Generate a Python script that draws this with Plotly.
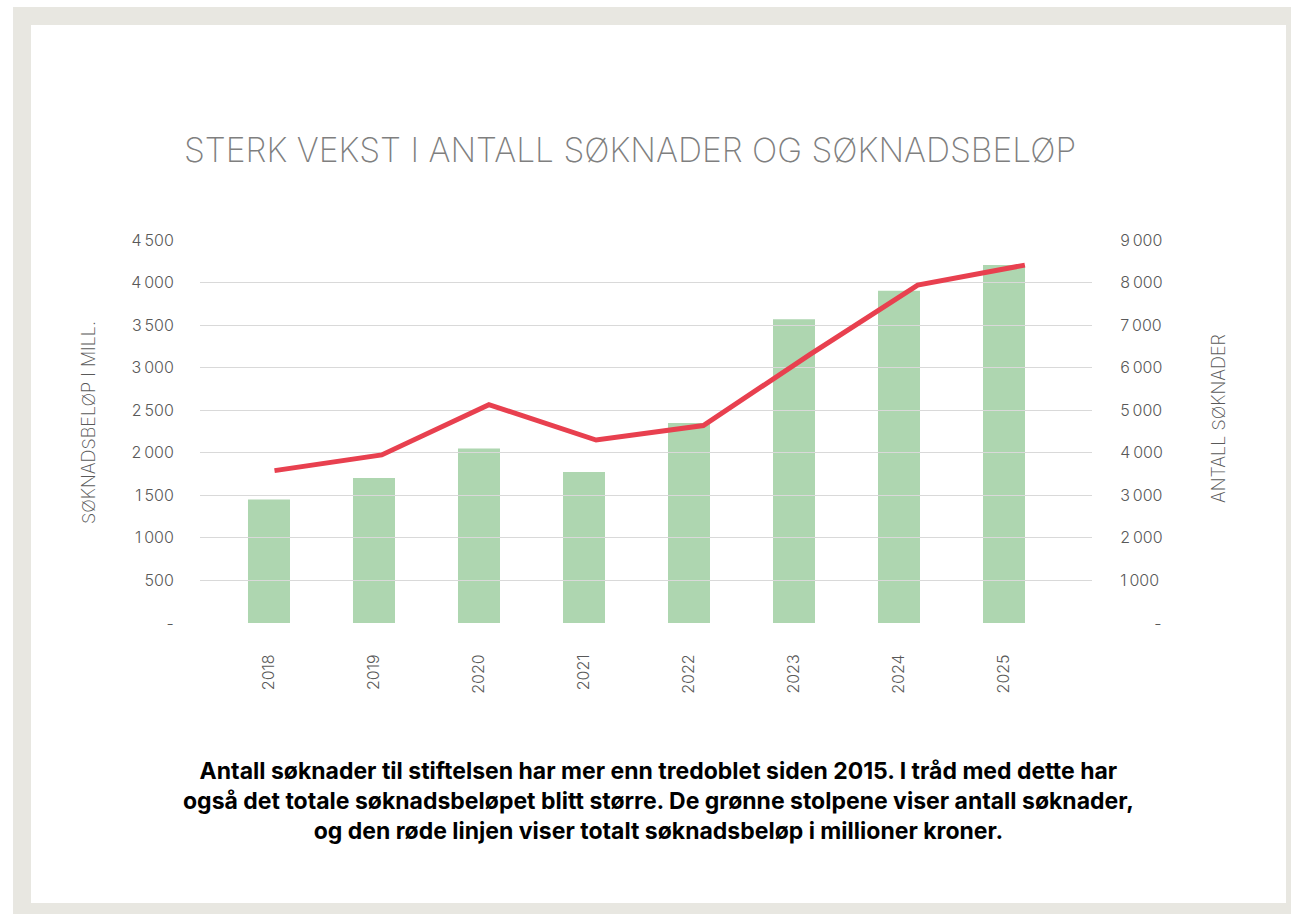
import plotly.graph_objects as go

years = ["2018", "2019", "2020", "2021", "2022", "2023", "2024", "2025"]
antall_soknader = [2900, 3410, 4100, 3550, 4700, 7140, 7810, 8410]
soknadsbelop_mill = [1790, 1975, 2565, 2150, 2320, 3160, 3970, 4205]

left_tickvals = [0, 500, 1000, 1500, 2000, 2500, 3000, 3500, 4000, 4500]
left_ticktext = ["-", "500", "1\u2009000", "1\u2009500", "2\u2009000", "2\u2009500",
                 "3\u2009000", "3\u2009500", "4\u2009000", "4\u2009500"]
right_tickvals = [0, 1000, 2000, 3000, 4000, 5000, 6000, 7000, 8000, 9000]
right_ticktext = ["\u2007\u2007\u2007\u2009-", "1\u2009000", "2\u2009000", "3\u2009000", "4\u2009000",
                  "5\u2009000", "6\u2009000", "7\u2009000", "8\u2009000", "9\u2009000"]

title_text = "STERK VEKST I ANTALL SØKNADER OG SØKNADSBELØP"
caption_lines = [
    "Antall søknader til stiftelsen har mer enn tredoblet siden 2015. I tråd med dette har",
    "også det totale søknadsbeløpet blitt større. De grønne stolpene viser antall søknader,",
    "og den røde linjen viser totalt søknadsbeløp i millioner kroner.",
]

GREY = "#595959"
FONT = "Inter"

fig = go.Figure()
fig.add_trace(go.Bar(
    x=years, y=antall_soknader, xaxis="x", yaxis="y2",
    marker=dict(color="#AED6B0", line=dict(width=0)), width=0.4,
    name="Antall søknader", hoverinfo="skip",
))
fig.add_trace(go.Scatter(
    x=years, y=soknadsbelop_mill, xaxis="x2", yaxis="y",
    mode="lines", line=dict(color="#E8404F", width=5),
    name="Søknadsbeløp", hoverinfo="skip",
))

annotations = [
    dict(text=title_text, xref="paper", yref="paper", x=0.482, y=1.235,
         xanchor="center", yanchor="middle", showarrow=False,
         font=dict(family=FONT, size=33.5, color="#7F7F7F", weight=200)),
    dict(text="SØKNADSBELØP I MILL.", xref="paper", yref="paper", x=-0.1256, y=0.5248,
         textangle=-90, xanchor="center", yanchor="middle", showarrow=False,
         font=dict(family=FONT, size=18, color=GREY, weight=200)),
    dict(text="ANTALL SØKNADER", xref="paper", yref="paper", x=1.1413, y=0.5326,
         textangle=-90, xanchor="center", yanchor="middle", showarrow=False,
         font=dict(family=FONT, size=18, color=GREY, weight=200)),
    dict(text="<br>".join(caption_lines), xref="paper", yref="paper",
         x=(658.5 - 200) / 892, y=(623 - 801) / 383,
         xanchor="center", yanchor="middle", showarrow=False, align="center",
         font=dict(family=FONT, size=23, color="black", weight=700)),
]

fig.update_layout(
    width=1291, height=914,
    margin=dict(l=200, r=199, t=240, b=291),
    paper_bgcolor="white",
    plot_bgcolor="rgba(0,0,0,0)",
    showlegend=False,
    hovermode=False,
    xaxis=dict(
        type="category", range=[-0.657, 7.838],
        tickangle=-90, ticks="outside", ticklen=24, tickcolor="rgba(0,0,0,0)",
        tickfont=dict(family=FONT, size=16, color=GREY, weight=300),
        showgrid=False, zeroline=False, showline=False,
    ),
    xaxis2=dict(
        type="category", overlaying="x", range=[-0.695, 7.626],
        visible=False, side="top",
    ),
    yaxis=dict(
        range=[0, 4500], tickvals=left_tickvals, ticktext=left_ticktext,
        ticks="outside", ticklen=22, tickcolor="rgba(0,0,0,0)",
        tickfont=dict(family=FONT, size=16, color=GREY, weight=300),
        showgrid=True, gridcolor="#D9D9D9", gridwidth=1.3,
        zeroline=False, showline=False,
    ),
    yaxis2=dict(
        range=[0, 9000], tickvals=right_tickvals, ticktext=right_ticktext,
        overlaying="y", side="right",
        ticks="outside", ticklen=24, tickcolor="rgba(0,0,0,0)",
        tickfont=dict(family=FONT, size=16, color=GREY, weight=300),
        showgrid=False, zeroline=False, showline=False,
    ),
    shapes=[
        dict(type="rect", xref="paper", yref="paper", layer="below",
             x0=-0.2096, x1=1.2231, y0=-0.7598, y1=1.6084,
             fillcolor="#E8E7E1", line=dict(width=0)),
        dict(type="rect", xref="paper", yref="paper", layer="below",
             x0=-0.18946, x1=1.21749, y0=-0.73107, y1=1.5614,
             fillcolor="white", line=dict(width=0)),
    ],
    annotations=annotations,
)

fig.write_html(
    "out.html",
    config={"displayModeBar": False},
    post_script="document.body.style.margin='0';document.body.style.overflow='hidden';",
)
